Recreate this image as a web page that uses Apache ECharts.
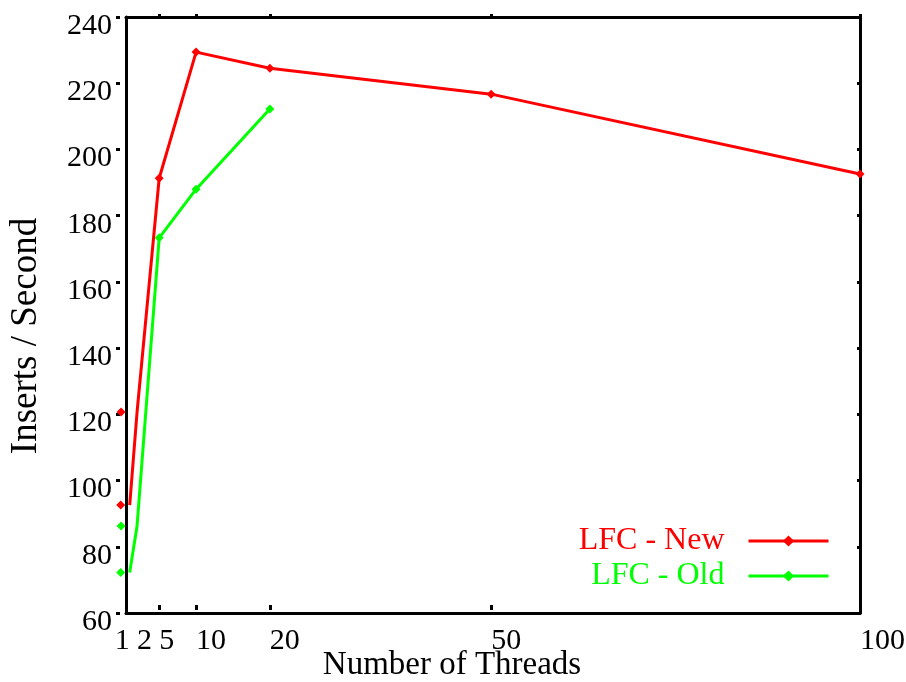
<!DOCTYPE html>
<html>
<head>
<meta charset="utf-8">
<script src="https://cdn.jsdelivr.net/npm/echarts@6/dist/echarts.min.js"></script>
<style>
  html, body { margin: 0; padding: 0; background: #fff; }
  #chart { width: 906px; height: 682px; }
</style>
</head>
<body>
<div id="chart"></div>
<script>
// data
const threadsNew = [1, 2, 5, 10, 20, 50, 100]
const lfcNew = [92.6, 120.7, 191.3, 229.4, 224.5, 216.7, 192.6]
const threadsOld = [1, 2, 5, 10, 20]
const lfcOld = [72.2, 86.3, 173.3, 188.0, 212.2]
const xTickLabels = [2, 5, 10, 20, 50, 100]
const xFirstLabel = [1]
const xInnerTicks = [5, 10, 20, 50, 100]
const yMin = 60
const yMax = 240
const yStep = 20

const FONT = 'Liberation Serif'
const BLACK = '#000'

// the first two markers sit at the left frame in the original plot
const leftMarkerShift = [[-9, 0], [-16, 0]]

const toPoints = (xs, ys) => xs.map((x, i) => {
  const item = { value: [x, ys[i]] }
  if (leftMarkerShift[i]) item.symbolOffset = leftMarkerShift[i]
  return item
})

const xBase = { type: 'value', min: 0.5, max: 100, splitLine: { show: false } }
const yBase = { type: 'value', min: yMin, max: yMax, interval: yStep, splitLine: { show: false } }

const chart = echarts.init(document.getElementById('chart'))

chart.setOption({
  backgroundColor: '#fff',
  animation: false,
  grid: { left: 126, right: 46, top: 17, bottom: 69, outerBoundsMode: 'none', containLabel: false },
  legend: {
    orient: 'vertical',
    align: 'right',
    right: 76,
    top: 525,
    padding: 0,
    itemWidth: 80,
    itemHeight: 14,
    itemGap: 3,
    lineStyle: { width: 3 },
    textStyle: { fontFamily: FONT, fontSize: 32, padding: [0, 19, 0, 0] },
    data: [
      { name: 'LFC - New', textStyle: { color: '#ff0000' } },
      { name: 'LFC - Old', textStyle: { color: '#00ff00' } }
    ]
  },
  xAxis: [
    {
      ...xBase,
      position: 'bottom',
      axisLine: { lineStyle: { color: BLACK, width: 3 } },
      axisTick: { show: false },
      axisLabel: {
        customValues: xTickLabels,
        align: 'left',
        margin: 13,
        color: BLACK,
        fontFamily: FONT,
        fontSize: 30
      },
      name: 'Number of Threads',
      nameLocation: 'middle',
      nameGap: 36,
      nameMoveOverlap: false,
      nameTextStyle: { color: BLACK, fontFamily: FONT, fontSize: 33, padding: [0, 82, 0, 0] }
    },
    {
      ...xBase,
      position: 'bottom',
      offset: -3,
      axisLine: { show: false },
      axisTick: { show: true, inside: true, length: 5, customValues: xInnerTicks, lineStyle: { color: BLACK, width: 3 } },
      axisLabel: {
        customValues: xFirstLabel,
        align: 'right',
        margin: 16,
        color: BLACK,
        fontFamily: FONT,
        fontSize: 30
      }
    },
    {
      ...xBase,
      position: 'top',
      axisLine: { lineStyle: { color: BLACK, width: 3 } },
      axisTick: { show: true, length: 3, customValues: xInnerTicks, lineStyle: { color: BLACK, width: 3 } },
      axisLabel: { show: false }
    }
  ],
  yAxis: [
    {
      ...yBase,
      position: 'left',
      axisLine: { show: true, lineStyle: { color: BLACK, width: 3 } },
      axisTick: { show: false },
      axisLabel: { show: false },
      name: 'Inserts / Second',
      nameLocation: 'middle',
      nameGap: 81,
      nameMoveOverlap: false,
      nameTextStyle: { color: BLACK, fontFamily: FONT, fontSize: 37, padding: [0, 42, 0, 0] }
    },
    {
      ...yBase,
      position: 'left',
      offset: 6,
      axisLine: { show: false },
      axisTick: { show: true, length: 4, lineStyle: { color: BLACK, width: 3 } },
      axisLabel: {
        margin: 8,
        color: BLACK,
        fontFamily: FONT,
        fontSize: 30,
        verticalAlign: 'top',
        lineHeight: 18
      }
    },
    {
      ...yBase,
      position: 'right',
      axisLine: { show: true, lineStyle: { color: BLACK, width: 3 } },
      axisTick: { show: true, inside: true, length: 3, lineStyle: { color: BLACK, width: 3 } },
      axisLabel: { show: false }
    }
  ],
  series: [
    {
      name: 'LFC - New',
      type: 'line',
      clip: false,
      data: toPoints(threadsNew, lfcNew),
      symbol: 'diamond',
      symbolSize: 9,
      lineStyle: { color: '#ff0000', width: 3 },
      itemStyle: { color: '#ff0000' }
    },
    {
      name: 'LFC - Old',
      type: 'line',
      clip: false,
      data: toPoints(threadsOld, lfcOld),
      symbol: 'diamond',
      symbolSize: 9,
      lineStyle: { color: '#00ff00', width: 3 },
      itemStyle: { color: '#00ff00' }
    }
  ]
})
</script>
</body>
</html>
